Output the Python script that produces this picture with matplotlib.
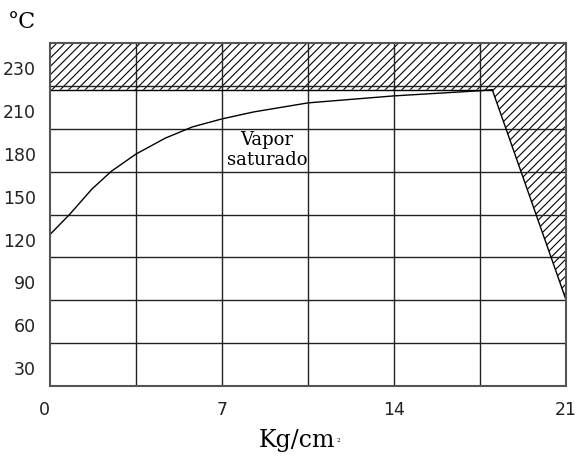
import numpy as np
import matplotlib
matplotlib.use("Agg")
import matplotlib.pyplot as plt

# saturation curve (pressure kg/cm2 vs temperature)
pressure = [0, 0.8, 1.7, 2.5, 3.5, 4.7, 5.8, 7.0, 8.3, 10.5, 14.0, 17.5, 18.0]
temp = [123.5, 137.6, 155.2, 167.8, 179.8, 191.0, 198.8, 204.4, 209.3, 215.6, 220.5, 224.1, 224.8]

# limit line on the right side
limit_p = [18.0, 21.0]
limit_t = [224.8, 77.8]
top_t = 257.5
bottom_t = 17.5

xticks = [0, 7, 14, 21]
yticks = [30, 60, 90, 120, 150, 180, 210, 240]
ylabels = ["30", "60", "90", "120", "150", "180", "210", "230"]

plt.rcParams['hatch.color'] = 'black'
plt.rcParams['hatch.linewidth'] = 0.8

fig = plt.figure(figsize=(5.79, 4.63), dpi=100)
ax = fig.add_axes([50/579, 1 - 386/463, 516/579, 343/463])

ax.set_xlim(0, 21)
ax.set_ylim(bottom_t, top_t)

# hatched zone: top band + triangle right of the limit line
px = [0, 21, 21, limit_p[0], 0]
py = [top_t, top_t, limit_t[1], limit_t[0], limit_t[0]]
ax.fill(px, py, facecolor='none', edgecolor='black', hatch='////', linewidth=0)

# grid
for gx in np.arange(3.5, 21, 3.5):
    ax.axvline(gx, color='#222222', lw=1.0)
for gy in np.arange(bottom_t + 30, top_t, 30):
    ax.axhline(gy, color='#222222', lw=1.0)

ax.plot([0, limit_p[0]], [limit_t[0], limit_t[0]], color='black', lw=1.0)
ax.plot(limit_p, limit_t, color='black', lw=1.0)
ax.plot(pressure, temp, color='black', lw=1.0)

ax.set_xticks(xticks)
ax.set_xticklabels([str(t) for t in xticks])
ax.set_yticks(yticks)
ax.set_yticklabels(ylabels)
ax.tick_params(which='both', length=0)
ax.tick_params(axis='x', pad=11)
ax.tick_params(axis='y', pad=10)
for lab in ax.get_xticklabels() + ax.get_yticklabels():
    lab.set_fontfamily('DejaVu Sans')
    lab.set_fontsize(12.5)
    lab.set_color('#222222')
ax.get_xticklabels()[0].set_ha('right')

for s in ax.spines.values():
    s.set_color('#555555')
    s.set_linewidth(1.5)

ax.text(8.83, 182.6, "Vapor\nsaturado", ha='center', va='center',
        fontfamily='DejaVu Serif', fontsize=13)

fig.text(22/579, 1 - 22/463, "°C", ha='center', va='center',
         fontfamily='DejaVu Serif', fontsize=16)
xl = fig.text(297/579, 1 - 441/463, "Kg/cm", ha='center', va='center',
              fontfamily='DejaVu Serif', fontsize=17)
ax.annotate("2", xy=(1.0, 0.5), xycoords=xl, xytext=(1, 0),
            textcoords='offset points', ha='left', va='center',
            fontfamily='DejaVu Serif', fontsize=4)

fig.savefig("out.png", dpi=100)
